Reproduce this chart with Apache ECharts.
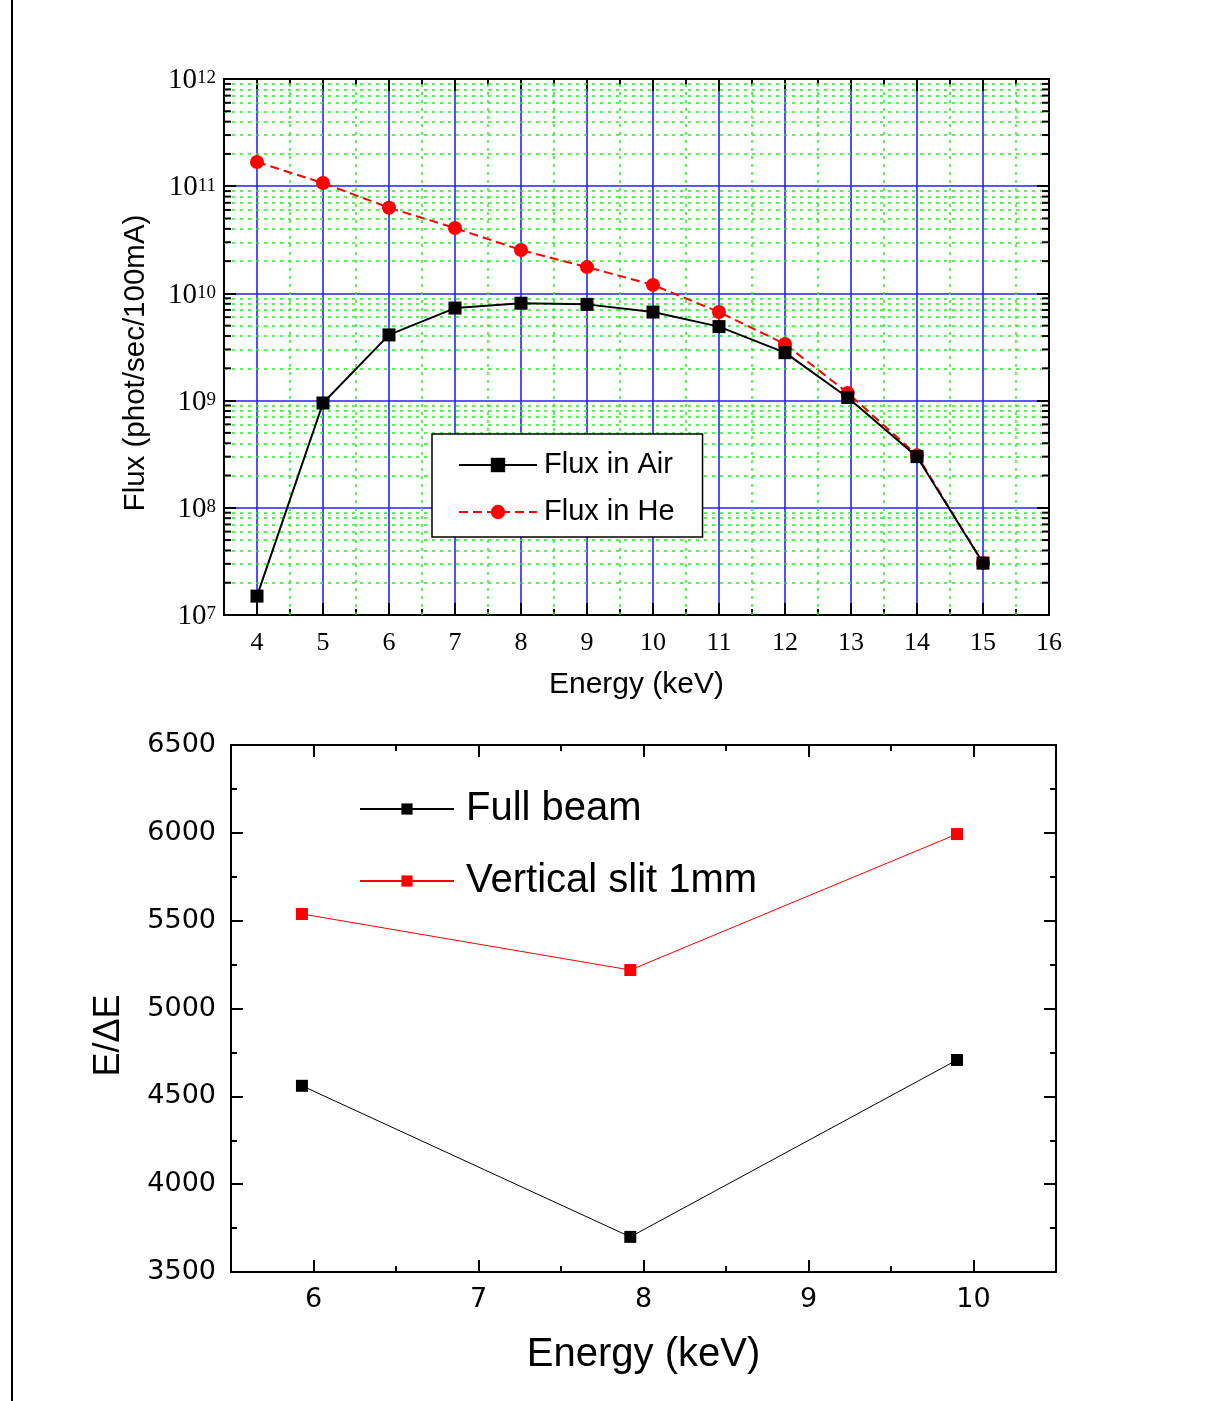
<!DOCTYPE html>
<html lang="en">
<head>
  <meta charset="UTF-8">
  <title>Flux and resolution</title>
  <script src="https://cdn.jsdelivr.net/npm/echarts@6/dist/echarts.min.js"></script>
  <style>
    html, body { margin: 0; padding: 0; background: #fff; }
  </style>
</head>
<body>
<div id="main" style="width: 1213px;height:1401px;"></div>
<script type="text/javascript">
  // 上图：通量 (log)
  var fluxEnergy = [4, 5, 6, 7, 8, 9, 10, 11, 12, 12.95, 14, 15];
  var fluxAir = [1.5e7, 9.5e8, 4.1e9, 7.3e9, 8.1e9, 7.9e9, 6.7e9, 4.9e9, 2.8e9, 1.07e9, 3.0e8, 3.05e7];
  var fluxHe = [1.68e11, 1.07e11, 6.3e10, 4.07e10, 2.54e10, 1.76e10, 1.2e10, 6.7e9, 3.37e9, 1.18e9, 3.1e8, 3.05e7];

  // 下图：分辨率 E/dE
  var resEnergy = [5.93, 7.92, 9.9];
  var resFull = [4560, 3700, 4707];
  var resSlit = [5538, 5219, 5993];

  // 次网格线位置
  var xMinorGrid = [4.5, 5.5, 6.5, 7.5, 8.5, 9.5, 10.5, 11.5, 12.5, 13.5, 14.5, 15.5];
  var yDecades = [1e7, 1e8, 1e9, 1e10, 1e11];
  var yMinorGrid = [];
  for (var d = 0; d < yDecades.length; d++) {
    for (var m = 2; m <= 9; m++) {
      yMinorGrid.push(m * yDecades[d]);
    }
  }

  function pairs(xs, ys) {
    var out = [];
    for (var i = 0; i < xs.length; i++) out.push([xs[i], ys[i]]);
    return out;
  }

  var minorStyle = { color: '#22ee22', width: 1.5, type: [3, 5] };
  var majorStyle = { color: '#2222ff', width: 1.6 };
  var gridLines = [];
  xMinorGrid.forEach(function (v) {
    gridLines.push({ xAxis: v, lineStyle: minorStyle });
  });
  yMinorGrid.forEach(function (v) {
    gridLines.push({ yAxis: v, lineStyle: minorStyle });
  });

  var axisBlack = { lineStyle: { color: '#000', width: 2 }, onZero: false };
  var serif = 'Liberation Serif';
  var sans = 'Liberation Sans';

  function intLabel(v) {
    return Math.abs(v - Math.round(v)) < 1e-6 ? String(Math.round(v)) : '';
  }

  function xAxisTop(pos, major) {
    return {
      gridIndex: 0, type: 'value', position: pos, min: 3.5, max: 16,
      splitNumber: major ? 12 : undefined, interval: major ? undefined : 0.5,
      axisLine: { show: major, lineStyle: { color: '#000', width: 2 }, onZero: false },
      axisTick: { inside: true, length: major ? 12 : 6, lineStyle: { color: '#000', width: 2 } },
      axisLabel: {
        show: major && pos === 'bottom', margin: 15, color: '#000',
        fontFamily: serif, fontSize: 26, formatter: intLabel
      },
      splitLine: { show: major && pos === 'bottom', lineStyle: majorStyle },
      name: major && pos === 'bottom' ? 'Energy (keV)' : '',
      nameLocation: 'middle', nameGap: 55,
      nameTextStyle: { fontFamily: sans, fontSize: 30, color: '#000' }
    };
  }

  function yAxisTop(pos) {
    return {
      gridIndex: 0, type: 'log', logBase: 10, position: pos, min: 1e7, max: 1e12, splitNumber: 5,
      axisLine: axisBlack,
      axisTick: { inside: true, length: 12, lineStyle: { color: '#000', width: 2 } },
      axisLabel: {
        show: pos === 'left', margin: 8, color: '#000', padding: [6, 0, 0, 0],
        formatter: function (v) {
          return '{b|10}{s|' + Math.round(Math.log(v) / Math.LN10) + '}';
        },
        rich: {
          b: { fontFamily: serif, fontSize: 29, lineHeight: 26, verticalAlign: 'bottom', color: '#000' },
          s: { fontFamily: serif, fontSize: 19, lineHeight: 16, verticalAlign: 'top', color: '#000' }
        }
      },
      splitLine: { show: pos === 'left', lineStyle: majorStyle },
      name: pos === 'left' ? 'Flux (phot/sec/100mA)' : '',
      nameLocation: 'middle', nameGap: 73,
      nameTextStyle: { fontFamily: sans, fontSize: 29.5, color: '#000', padding: [0, 32, 0, 0] }
    };
  }

  function xAxisBottom(pos, major) {
    return {
      gridIndex: 1, type: 'value', position: pos, min: 5.5, max: 10.5,
      splitNumber: major ? 5 : undefined, interval: major ? undefined : 0.5,
      axisLine: { show: major, lineStyle: { color: '#000', width: 2 }, onZero: false },
      axisTick: { inside: true, length: major ? 12 : 6, lineStyle: { color: '#000', width: 2 } },
      axisLabel: {
        show: major && pos === 'bottom', margin: 14, color: '#000',
        fontFamily: 'DejaVu Sans', fontSize: 27, formatter: intLabel
      },
      splitLine: { show: false },
      name: major && pos === 'bottom' ? 'Energy (keV)' : '',
      nameLocation: 'middle', nameGap: 63,
      nameTextStyle: { fontFamily: sans, fontSize: 40, color: '#000' }
    };
  }

  function yAxisBottom(pos) {
    return {
      gridIndex: 1, type: 'value', position: pos, min: 3500, max: 6500, interval: 500,
      axisLine: axisBlack,
      axisTick: { inside: true, length: 12, lineStyle: { color: '#000', width: 2 } },
      minorTick: { show: true, splitNumber: 2, length: 6, lineStyle: { color: '#000', width: 2 } },
      axisLabel: {
        show: pos === 'left', margin: 15, color: '#000',
        fontFamily: 'DejaVu Sans', fontSize: 27,
        formatter: function (v) { return String(v); }
      },
      splitLine: { show: false },
      name: pos === 'left' ? 'E/\u0394E' : '',
      nameLocation: 'middle', nameGap: 104,
      nameTextStyle: { fontFamily: sans, fontSize: 36, color: '#000', padding: [0, 54, 0, 0] }
    };
  }

  // log 轴的次刻度 (2..9)
  function minorLogTicks(params, api) {
    var v = api.value(1);
    var l = api.coord([3.5, v]);
    var r = api.coord([16, v]);
    var st = { stroke: '#000', lineWidth: 2 };
    return {
      type: 'group',
      children: [
        { type: 'line', shape: { x1: l[0], y1: l[1], x2: l[0] + 7, y2: l[1] }, style: st },
        { type: 'line', shape: { x1: r[0], y1: r[1], x2: r[0] - 7, y2: r[1] }, style: st }
      ]
    };
  }

  var myChart = echarts.init(document.getElementById('main'));
  myChart.setOption({
    animation: false,
    backgroundColor: '#fff',
    graphic: [{
      type: 'line', shape: { x1: 12, y1: 0, x2: 12, y2: 1401 },
      style: { stroke: '#000', lineWidth: 2 }
    }],
    grid: [
      { left: 224, top: 79, width: 825, height: 536 },
      { left: 231, top: 745, width: 825, height: 527 }
    ],
    legend: [
      {
        data: ['Flux in Air', 'Flux in He'],
        orient: 'vertical', left: 432, top: 434, z: 20,
        backgroundColor: '#fff', borderColor: '#000', borderWidth: 1.5,
        padding: [16, 28, 10, 26],
        itemWidth: 78, itemHeight: 18, itemGap: 17,
        textStyle: { fontFamily: sans, fontSize: 29, lineHeight: 30, color: '#000', padding: [0, 0, 0, 2] }
      },
      {
        data: ['Full beam', 'Vertical slit 1mm'],
        orient: 'vertical', left: 354, top: 784, z: 20,
        itemWidth: 94, itemHeight: 14, itemGap: 32,
        textStyle: { fontFamily: sans, fontSize: 40, lineHeight: 40, color: '#000', padding: [0, 0, 0, 7] }
      }
    ],
    xAxis: [
      xAxisTop('bottom', false), xAxisTop('top', false),
      xAxisTop('bottom', true), xAxisTop('top', true),
      xAxisBottom('bottom', false), xAxisBottom('top', false),
      xAxisBottom('bottom', true), xAxisBottom('top', true)
    ],
    yAxis: [
      yAxisTop('left'), yAxisTop('right'),
      yAxisBottom('left'), yAxisBottom('right')
    ],
    series: [
      {
        name: 'grid', type: 'line', xAxisIndex: 2, yAxisIndex: 0, data: [], z: 1,
        silent: true,
        markLine: { silent: true, z: 1, symbol: 'none', label: { show: false }, data: gridLines }
      },
      {
        name: 'ticks', type: 'custom', xAxisIndex: 2, yAxisIndex: 0, z: 4, silent: true,
        renderItem: minorLogTicks,
        data: yMinorGrid.map(function (v) { return [4, v]; })
      },
      {
        name: 'Flux in He', type: 'line', xAxisIndex: 2, yAxisIndex: 0, z: 3,
        data: pairs(fluxEnergy, fluxHe),
        symbol: 'circle', symbolSize: 14,
        lineStyle: { color: '#ff0000', width: 2, type: [9, 5] },
        itemStyle: { color: '#ff0000' }
      },
      {
        name: 'Flux in Air', type: 'line', xAxisIndex: 2, yAxisIndex: 0, z: 3,
        data: pairs(fluxEnergy, fluxAir),
        symbol: 'rect', symbolSize: 13,
        lineStyle: { color: '#000', width: 2 },
        itemStyle: { color: '#000' }
      },
      {
        name: 'Full beam', type: 'line', xAxisIndex: 6, yAxisIndex: 2,
        data: pairs(resEnergy, resFull),
        symbol: 'rect', symbolSize: 12,
        lineStyle: { color: '#000', width: 1 },
        itemStyle: { color: '#000' }
      },
      {
        name: 'Vertical slit 1mm', type: 'line', xAxisIndex: 6, yAxisIndex: 2,
        data: pairs(resEnergy, resSlit),
        symbol: 'rect', symbolSize: 12,
        lineStyle: { color: '#ff0000', width: 1 },
        itemStyle: { color: '#ff0000' }
      }
    ]
  });
</script>
</body>
</html>
